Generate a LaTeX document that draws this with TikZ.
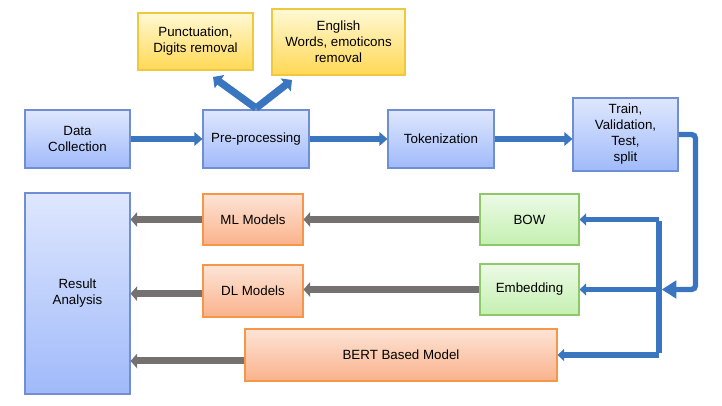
\documentclass[tikz,border=0pt]{standalone}
\usepackage{fontspec}
\setmainfont{Liberation Sans}
\usetikzlibrary{arrows.meta,shadows}
\definecolor{flowblue}{RGB}{58, 117, 192}
\definecolor{flowgray}{RGB}{118, 113, 113}
\definecolor{bluetop}{RGB}{222, 231, 253}
\definecolor{bluebot}{RGB}{160, 186, 250}
\definecolor{blueline}{RGB}{112, 142, 212}
\definecolor{orangetop}{RGB}{253, 228, 214}
\definecolor{orangebot}{RGB}{250, 178, 140}
\definecolor{orangeline}{RGB}{246, 150, 72}
\definecolor{greentop}{RGB}{236, 250, 230}
\definecolor{greenbot}{RGB}{196, 240, 176}
\definecolor{greenline}{RGB}{142, 200, 104}
\definecolor{yellowtop}{RGB}{255, 249, 212}
\definecolor{yellowbot}{RGB}{255, 216, 84}
\definecolor{yellowline}{RGB}{240, 200, 64}
\tikzset{
  stepbox/.style={draw, line width=0.8pt, align=center, inner sep=0pt,
                  font=\fontsize{10}{12}\selectfont,
                  drop shadow={shadow xshift=1pt, shadow yshift=-1pt, opacity=0.25}},
  bluebox/.style={stepbox, draw=blueline, top color=bluetop, bottom color=bluebot},
  orangebox/.style={stepbox, draw=orangeline, top color=orangetop, bottom color=orangebot},
  greenbox/.style={stepbox, draw=greenline, top color=greentop, bottom color=greenbot},
  yellowbox/.style={stepbox, draw=yellowline, top color=yellowtop, bottom color=yellowbot},
  flowarr/.style={flowblue, line width=4.5pt, -{Triangle[length=6pt, width=10pt]}},
  busline/.style={flowblue, line width=4pt},
  busarr/.style={flowblue, line width=4pt, -{Triangle[length=5pt, width=9pt]}},
  forkarr/.style={flowblue, line width=5.5pt, -{Triangle[length=6pt, width=12pt]}},
  grayarr/.style={flowgray, line width=5.25pt, -{Triangle[length=5pt, width=11pt]}}
}
\begin{document}
\begin{tikzpicture}[x=0.75pt, y=-0.75pt]
            \useasboundingbox (0, 0) rectangle (722, 406);
            % Top row
            \node[bluebox, minimum width=78.75pt, minimum height=43.5pt]  (data)   at ( 77.5, 139.0) {Data\\Collection};
            \node[bluebox, minimum width=79.5pt,  minimum height=43.5pt]  (pre)    at (256.0, 139.0) {Pre-processing};
            \node[bluebox, minimum width=79.5pt,  minimum height=43.5pt]  (tok)    at (441.0, 139.0) {Tokenization};
            \node[bluebox, minimum width=78.75pt, minimum height=54.75pt] (split)  at (625.5, 134.5) {Train,\\Validation,\\Test,\\split};
            % Cleaning steps
            \node[yellowbox, minimum width=86.25pt, minimum height=42.75pt] (punct) at (195.5,  41.5) {Punctuation,\\Digits removal};
            \node[yellowbox, minimum width=99.75pt, minimum height=49.5pt]  (eng)   at (338.5,  42.0) {English\\Words, emoticons\\removal};
            % Features
            \node[greenbox, minimum width=74.25pt, minimum height=38.25pt] (bow)    at (529.5, 219.5) {BOW};
            \node[greenbox, minimum width=74.25pt, minimum height=38.25pt] (emb)    at (529.5, 289.5) {Embedding};
            % Models
            \node[orangebox, minimum width=75pt,  minimum height=38.25pt] (ml)     at (253.0, 219.5) {ML Models};
            \node[orangebox, minimum width=75pt,  minimum height=39pt]    (dl)     at (253.0, 291.0) {DL Models};
            \node[orangebox, minimum width=234pt, minimum height=39pt]    (bert)   at (401.0, 355.0) {BERT Based Model};
            % Result
            \node[bluebox, minimum width=78.75pt, minimum height=150.75pt] (result) at ( 77.5, 293.5) {Result\\Analysis};
            % Pipeline
            \draw[flowarr] (data) -- (pre);
            \draw[flowarr] (pre)  -- (tok);
            \draw[flowarr] (tok.east)  -- (split.west |- tok.east);
            % Fork to cleaning steps
            \coordinate (forkL) at (213, 77);
            \coordinate (forkR) at (292, 80);
            \draw[forkarr] ([yshift=1pt]pre.north) -- (forkL);
            \draw[forkarr] ([yshift=1pt]pre.north) -- (forkR);
            % Split to features
            \coordinate (bus) at (659, 218);
            \draw[flowblue, line width=4pt, rounded corners=3pt, -{Triangle[length=11pt, width=13pt]}]
                 (split.east) -- ++(17, 0) |- ([xshift=2pt]bus |- emb.east);
            \draw[busline] ([yshift=-1.5pt]bus |- bow.east) -- ([yshift=1.5pt]bus |- bert.east);
            \draw[busarr]  (bus |- bow.east)  -- (bow.east);
            \draw[busarr]  (bus |- emb.east)  -- (emb.east);
            \draw[busarr]  (bus |- bert.east) -- (bert.east);
            % Features to models
            \draw[grayarr] (bow) -- (ml);
            \draw[grayarr] (emb.west) -- (dl.east |- emb.west);
            % Models to result
            \draw[grayarr] (ml.west) -- (result.east |- ml.west);
            \draw[grayarr] ([yshift=-2pt]dl.west) -- ([yshift=-2pt]result.east |- dl.west);
            \draw[grayarr] ([yshift=-4.5pt]bert.west) -- ([yshift=-4.5pt]result.east |- bert.west);
\end{tikzpicture}
\end{document}
